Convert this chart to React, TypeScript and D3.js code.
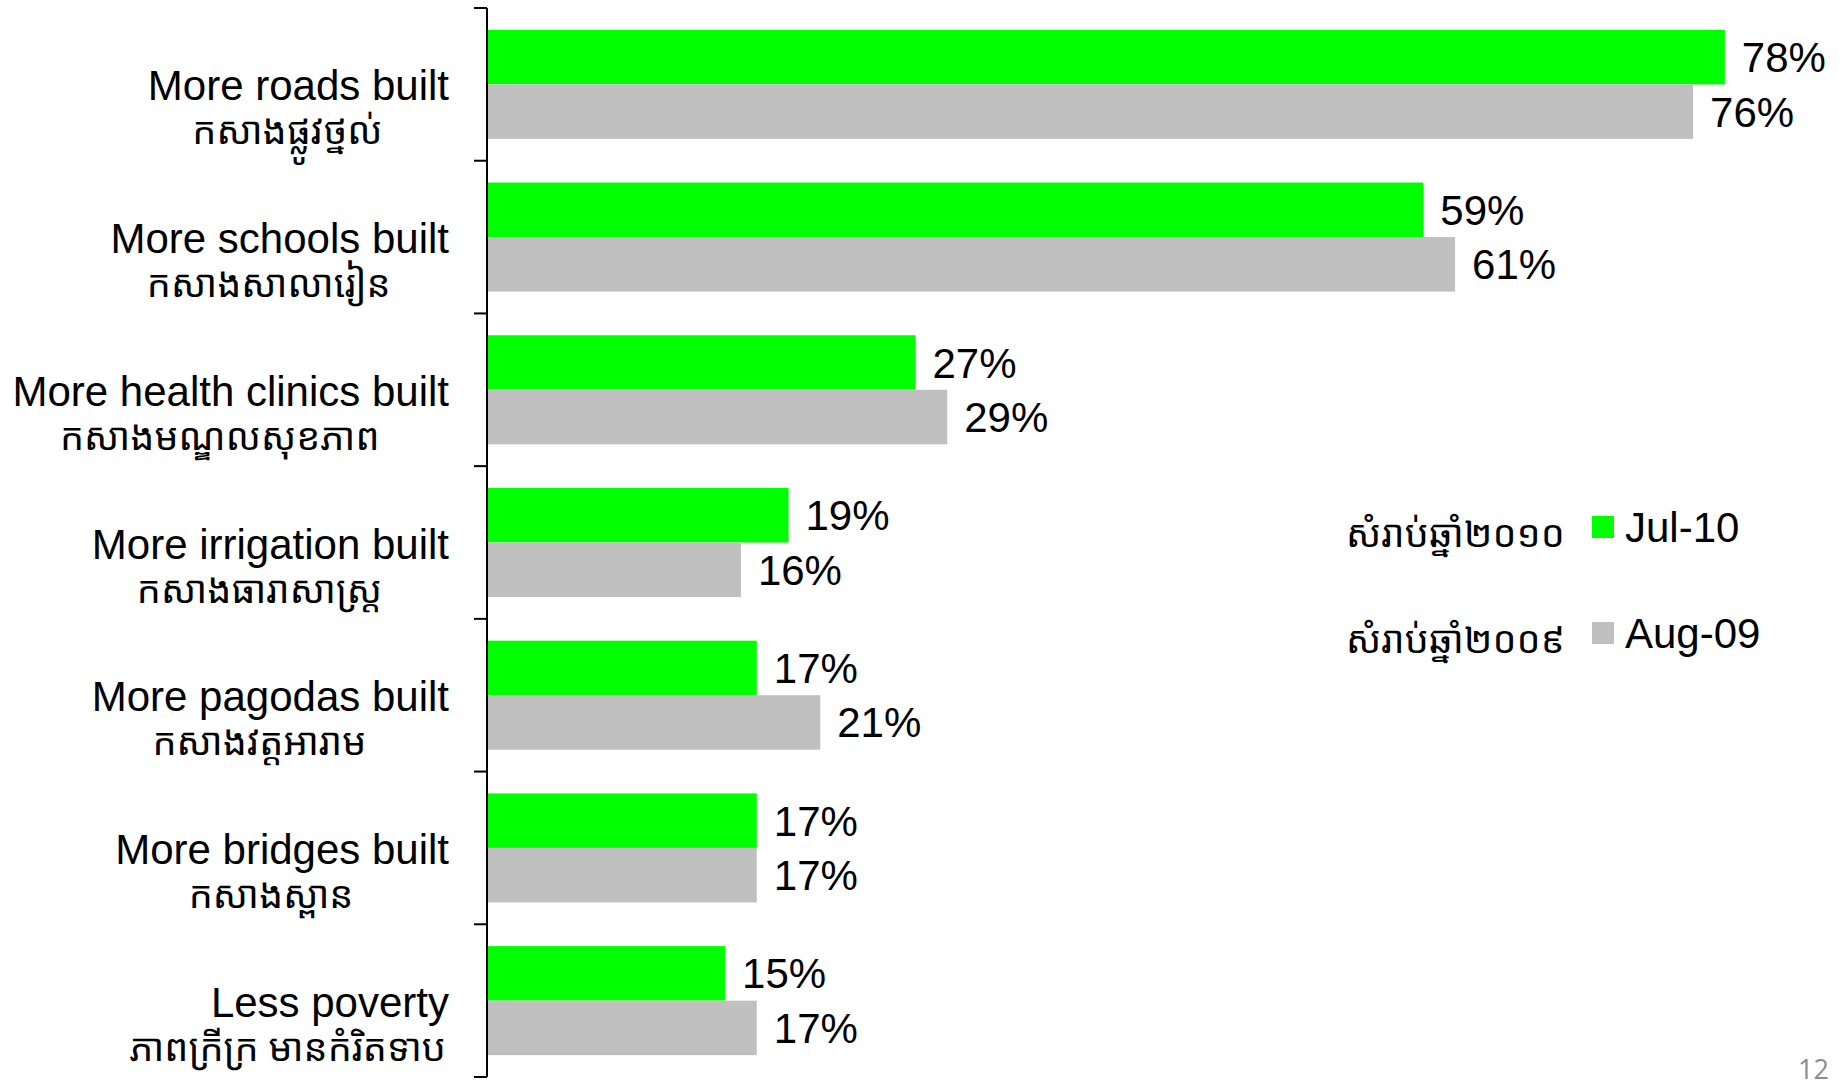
import React, { useEffect, useRef } from 'react';
import * as d3 from 'd3';

const categories = [
  'More roads built',
  'More schools built',
  'More health clinics built',
  'More irrigation built',
  'More pagodas built',
  'More bridges built',
  'Less poverty',
];

const khmerLabels = [
  'កសាងផ្លូវថ្នល់',
  'កសាងសាលារៀន',
  'កសាងមណ្ឌលសុខភាព',
  'កសាងធារាសាស្ត្រ',
  'កសាងវត្តអារាម',
  'កសាងស្ពាន',
  'ភាពក្រីក្រ មានកំរិតទាប',
];

const seriesNames = ['Jul-10', 'Aug-09'];
const seriesKhmer = ['សំរាប់ឆ្នាំ២០១០', 'សំរាប់ឆ្នាំ២០០៩'];
const jul10 = [78, 59, 27, 19, 17, 17, 15];
const aug09 = [76, 61, 29, 16, 21, 17, 17];

const colors = ['#00ff00', '#c0c0c0'];

const App: React.FC = () => {
  const svgRef = useRef<SVGSVGElement>(null);

  useEffect(() => {
    const svg = d3.select(svgRef.current);
    svg.selectAll('*').remove();

    const axisX = 487;
    const labelRight = 449;
    const latin = '"Liberation Sans", Arial, sans-serif';
    const khmer = '"Khmer OS", "Noto Sans Khmer", "Khmer UI", "Liberation Sans", sans-serif';

    const rows = categories.map((c, i) => ({
      name: c,
      kh: khmerLabels[i],
      values: [jul10[i], aug09[i]],
    }));

    const x = d3.scaleLinear().domain([0, 100]).range([axisX, axisX + 1587]);

    const y = d3.scaleBand<string>()
      .domain(categories)
      .range([8, 1077])
      .paddingInner(0.286)
      .paddingOuter(0.143);

    const sub = d3.scaleBand<string>()
      .domain(seriesNames)
      .range([0, y.bandwidth()]);

    const step = y.step();
    const bandCenter = (c: string) => (y(c) ?? 0) + y.bandwidth() / 2;

    // bars
    const groups = svg.append('g')
      .selectAll('g')
      .data(rows)
      .join('g')
      .attr('transform', d => `translate(0,${y(d.name)})`);

    groups.selectAll('rect')
      .data(d => d.values.map((v, k) => ({ key: seriesNames[k], v, k })))
      .join('rect')
      .attr('x', x(0))
      .attr('y', d => sub(d.key) ?? 0)
      .attr('width', d => x(d.v) - x(0))
      .attr('height', sub.bandwidth())
      .attr('fill', d => colors[d.k]);

    groups.selectAll('text.val')
      .data(d => d.values.map((v, k) => ({ key: seriesNames[k], v })))
      .join('text')
      .attr('class', 'val')
      .attr('x', d => x(d.v) + 17)
      .attr('y', d => (sub(d.key) ?? 0) + sub.bandwidth() / 2 + 15)
      .attr('font-family', latin)
      .attr('font-size', 42)
      .attr('fill', '#000')
      .text(d => `${d.v}%`);

    // axis line + ticks at band boundaries
    const axis = svg.append('g');
    axis.append('line')
      .attr('x1', axisX).attr('x2', axisX)
      .attr('y1', y.range()[0]).attr('y2', y.range()[1])
      .attr('stroke', '#000').attr('stroke-width', 2);
    axis.selectAll('line.tick')
      .data(d3.range(categories.length + 1))
      .join('line')
      .attr('class', 'tick')
      .attr('x1', axisX - 13).attr('x2', axisX)
      .attr('y1', i => y.range()[0] + i * step)
      .attr('y2', i => y.range()[0] + i * step)
      .attr('stroke', '#000').attr('stroke-width', 2);

    // category labels: english right-aligned, khmer centred under it
    const labels = svg.append('g');
    const en = labels.selectAll('text.en')
      .data(rows)
      .join('text')
      .attr('class', 'en')
      .attr('x', labelRight)
      .attr('y', d => bandCenter(d.name) + 16)
      .attr('text-anchor', 'end')
      .attr('font-family', latin)
      .attr('font-size', 42)
      .text(d => d.name);

    const enWidths: number[] = [];
    en.each(function () {
      enWidths.push((this as SVGTextElement).getComputedTextLength());
    });

    labels.selectAll('text.kh')
      .data(rows)
      .join('text')
      .attr('class', 'kh')
      .attr('y', d => bandCenter(d.name) + 60)
      .attr('text-anchor', 'middle')
      .attr('font-family', khmer)
      .attr('font-size', 38)
      .text(d => d.kh)
      .attr('x', function (_d, i) {
        const w = (this as SVGTextElement).getComputedTextLength();
        const enCenter = labelRight - enWidths[i] / 2;
        return Math.min(enCenter - 11, labelRight - 3 - w / 2);
      });

    // legend
    const legend = svg.append('g');
    const legendY = [527, 633];
    seriesNames.forEach((s, i) => {
      legend.append('text')
        .attr('x', 1346)
        .attr('y', legendY[i] + 20)
        .attr('font-family', khmer)
        .attr('font-size', 38)
        .text(seriesKhmer[i]);
      legend.append('rect')
        .attr('x', 1592)
        .attr('y', legendY[i] - 11)
        .attr('width', 22)
        .attr('height', 22)
        .attr('fill', colors[i]);
      legend.append('text')
        .attr('x', 1625)
        .attr('y', legendY[i] + 15)
        .attr('font-family', latin)
        .attr('font-size', 42)
        .text(s);
    });

    // page number
    svg.append('text')
      .attr('x', 1829)
      .attr('y', 1079)
      .attr('text-anchor', 'end')
      .attr('font-family', '"Open Sans", "Liberation Sans", sans-serif')
      .attr('font-size', 27)
      .attr('fill', '#8c8c8c')
      .text('12');
  }, []);

  return (
    <svg
      ref={svgRef}
      width={1839}
      height={1087}
      style={{ position: 'absolute', left: 0, top: 0, background: '#fff' }}
    />
  );
};

export default App;
